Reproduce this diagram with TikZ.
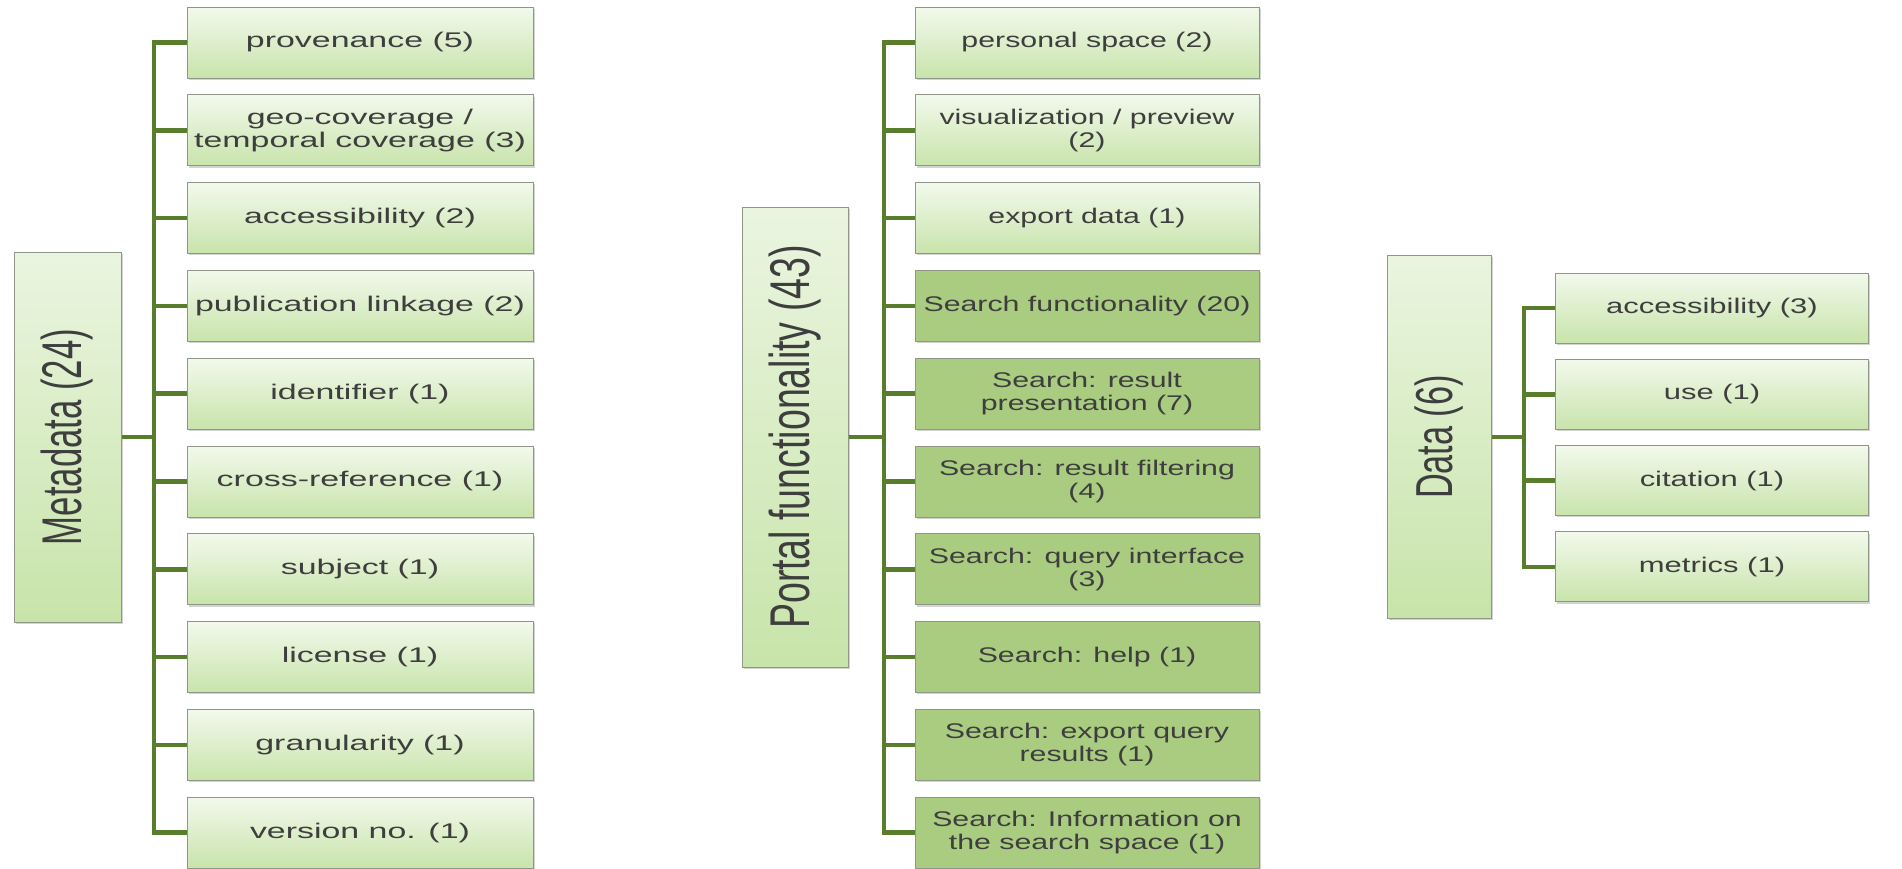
\documentclass[tikz,border=0pt]{standalone}
\usepackage{fontspec}
\setmainfont{Liberation Sans}
\newfontfamily\metafam[FakeStretch=1.6]{Liberation Sans}
\newfontfamily\portalfam[FakeStretch=1.43]{Liberation Sans}
\newfontfamily\datafam[FakeStretch=1.46]{Liberation Sans}
\newfontfamily\metaroot[FakeStretch=0.62]{Liberation Sans}
\newfontfamily\portalroot[FakeStretch=0.67]{Liberation Sans}
\newfontfamily\dataroot[FakeStretch=0.66]{Liberation Sans}
\usepackage{xcolor}
\usepackage{tikz}
\usetikzlibrary{shadows}

\definecolor{leaftop}{HTML}{F2F9EC}
\definecolor{leafbot}{HTML}{C8E4AB}
\definecolor{leafdark}{HTML}{A9CC81}
\definecolor{roottop}{HTML}{EAF5E0}
\definecolor{rootbot}{HTML}{C8E4AA}
\definecolor{boxline}{HTML}{8E9788}
\definecolor{branchgreen}{HTML}{587D2D}
\definecolor{txtgray}{HTML}{3E3E3E}

\newcommand\metaleaf{\metafam\fontsize{10.6}{11.5}\selectfont}
\newcommand\portalleaf{\portalfam\fontsize{10.6}{11.5}\selectfont}
\newcommand\dataleaf{\datafam\fontsize{10.6}{11.5}\selectfont}

\tikzset{
  basebox/.style={draw=boxline, line width=0.5pt, text=txtgray, inner sep=1pt,
    align=center, drop shadow={shadow xshift=0.8pt, shadow yshift=-0.9pt, opacity=0.35}},
  leafbox/.style={basebox, top color=leaftop, bottom color=leafbot, minimum height=35.5pt},
  searchbox/.style={basebox, fill=leafdark, minimum height=35.5pt},
  rootbox/.style={basebox, top color=roottop, bottom color=rootbot, font=\fontsize{28}{30}\selectfont},
  branch/.style={draw=branchgreen, line width=2.3pt},
}

\begin{document}
\begin{tikzpicture}[x=0.5pt,y=-0.5pt]
	\useasboundingbox (0,0) rectangle (1902,868);

	% Metadata
	\node[rootbox, minimum width=53.5pt, minimum height=185pt] (meta) at (67.5,437)
		{\rotatebox{90}{\metaroot Metadata (24)}};
	\foreach \txt [count=\i from 0] in {{provenance (5)}, {geo-coverage /\\temporal coverage (3)},
		{accessibility (2)}, {publication linkage (2)}, {identifier (1)}, {cross-reference (1)},
		{subject (1)}, {license (1)}, {granularity (1)}, {version no. (1)}}
		\node[leafbox, font=\metaleaf, minimum width=173pt] (m\i) at (360,{42.5+87.8*\i}) {\txt};
	\coordinate (mt) at (154,437);
	\draw[branch] (meta.east) -- (mt);
	\foreach \i in {0,...,9}
		\draw[branch] (mt) |- (m\i.west);

	% Portal functionality
	\node[rootbox, minimum width=53pt, minimum height=230pt] (portal) at (795,437)
		{\rotatebox{90}{\portalroot Portal functionality (43)}};
	\foreach \txt/\sty [count=\i from 0] in {{personal space (2)}/leafbox,
		{visualization / preview\\(2)}/leafbox, {export data (1)}/leafbox,
		{Search functionality (20)}/searchbox, {Search: result\\presentation (7)}/searchbox,
		{Search: result filtering\\(4)}/searchbox, {Search: query interface\\(3)}/searchbox,
		{Search: help (1)}/searchbox, {Search: export query\\results (1)}/searchbox,
		{Search: Information on\\the search space (1)}/searchbox}
		\node[\sty, font=\portalleaf, minimum width=172pt] (p\i) at (1087,{42.5+87.8*\i}) {\txt};
	\coordinate (pt) at (884,437);
	\draw[branch] (portal.east) -- (pt);
	\foreach \i in {0,...,9}
		\draw[branch] (pt) |- (p\i.west);

	% Data
	\node[rootbox, minimum width=52pt, minimum height=181.5pt, font=\fontsize{26}{28}\selectfont] (data) at (1439,437)
		{\rotatebox{90}{\dataroot Data (6)}};
	\foreach \txt [count=\i from 0] in {{accessibility (3)}, {use (1)}, {citation (1)}, {metrics (1)}}
		\node[leafbox, font=\dataleaf, minimum width=156.5pt, minimum height=35pt] (d\i) at (1712,{308+86.3*\i}) {\txt};
	\coordinate (dt) at (1524,437);
	\draw[branch] (data.east) -- (dt);
	\foreach \i in {0,...,3}
		\draw[branch] (dt) |- (d\i.west);
\end{tikzpicture}
\end{document}
